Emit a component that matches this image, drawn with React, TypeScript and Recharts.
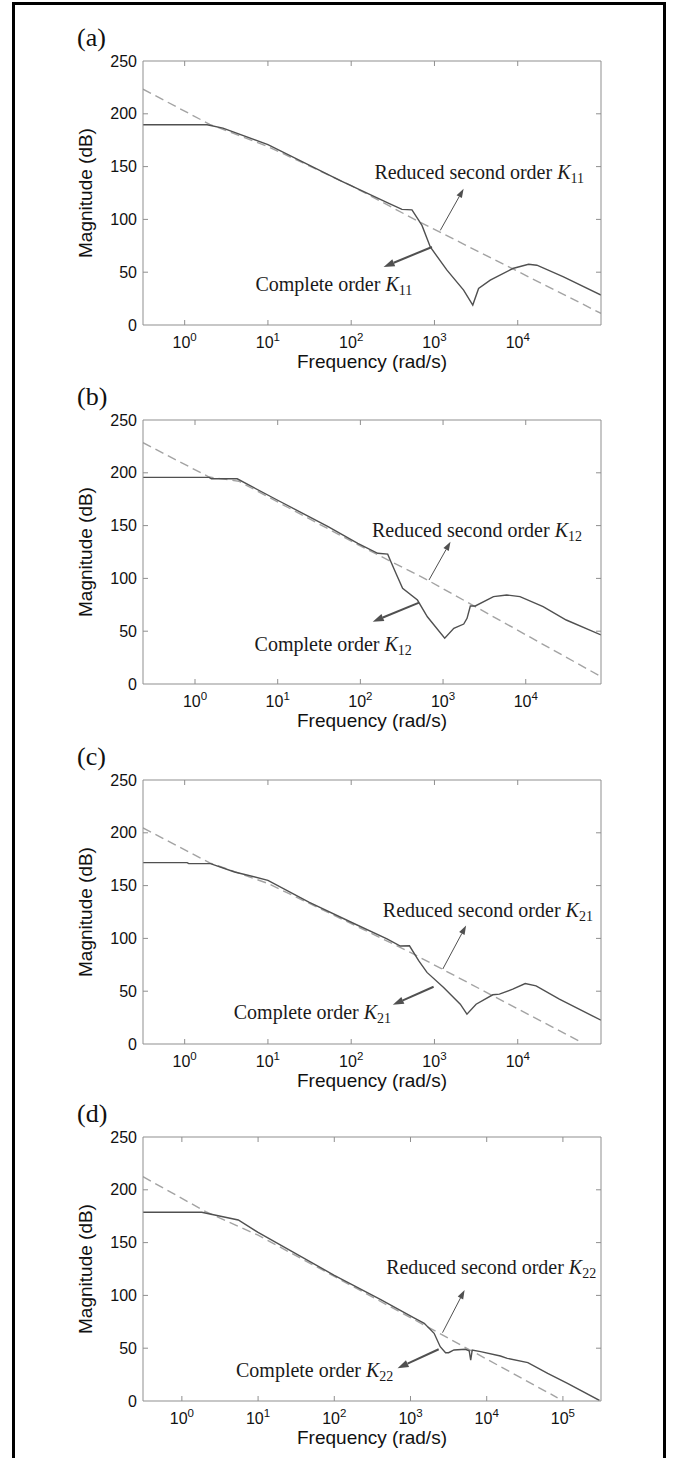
import React from 'react';
import { LineChart, Line, XAxis, YAxis, ReferenceLine, ReferenceDot, Label } from 'recharts';

const SANS = '"Liberation Sans", Arial, Helvetica, sans-serif';
const SERIF = '"Liberation Serif", "Times New Roman", serif';
const AXIS = '#8f8f8f';
const SOLID = '#505050';
const DASH = '#a3a3a3';
const ARROW = '#505050';

const magTicks = [0, 50, 100, 150, 200, 250];
const decades5 = [1, 10, 100, 1000, 10000];
const decades6 = [1, 10, 100, 1000, 10000, 100000];

// (a) K11
const freqA = [0.316, 1.86, 2.88, 10, 74, 275, 407, 537, 708, 891, 1413, 2239, 2884, 3388, 4677, 8710, 13490, 16980, 35480, 100000];
const completeA = [189.6, 189.6, 186.5, 170.8, 136.8, 115.6, 109.5, 109, 94.3, 73.9, 51.9, 33, 18.9, 34.6, 42.5, 53.5, 57.5, 56.6, 45.6, 28.3];
const reducedFreqA = [0.316, 2.0, 10, 100, 562, 100000];
const reducedA = [223.3, 190, 169, 132, 100.5, 11];

// (b) K12
const freqB = [0.235, 1.48, 1.58, 3.24, 10, 40.7, 93, 162, 214, 234, 269, 324, 490, 646, 1047, 1349, 1778, 1950, 2138, 2455, 4074, 5888, 8511, 16220, 30900, 81300];
const completeB = [195.7, 195.7, 194.3, 194.3, 174, 149, 133.2, 123.8, 123, 115.8, 104.8, 90.6, 79.5, 63.7, 43.3, 52.7, 56.8, 62.2, 73.9, 73.9, 82.7, 84.3, 82.7, 73.2, 60.6, 46.5];
const reducedFreqB = [0.235, 1.48, 3.39, 93, 646, 81300];
const reducedB = [228.5, 196, 192, 132, 98.5, 7];

// (c) K21
const freqC = [0.316, 1.07, 1.12, 2.04, 3.98, 10, 31, 100, 269, 389, 501, 646, 813, 1288, 2042, 2455, 3162, 5012, 6026, 8710, 12300, 16600, 31620, 100000];
const completeC = [171.8, 171.8, 170.8, 170.8, 162.9, 155, 134.3, 115.3, 99.5, 92.8, 93, 78.9, 67.8, 53.5, 37.7, 28.2, 37.7, 46.6, 47.2, 52, 57.3, 55.1, 42.5, 22.5];
const reducedFreqC = [0.316, 2.0, 10, 100, 513, 60260];
const reducedC = [204.7, 171.5, 152, 114, 86.8, 1];

// (d) K22
const freqD = [0.309, 1.82, 5.5, 10, 100, 407, 1096, 1514, 2042, 2455, 2884, 3162, 3715, 5248, 5888, 6166, 6457, 8318, 15140, 18620, 34670, 63100, 114800, 302000];
const completeD = [178.7, 178.7, 171.4, 159.7, 119, 96, 79, 73.6, 64.1, 51.4, 45.7, 45.7, 48.3, 49, 47.6, 38.8, 48.3, 46.7, 42.6, 40.4, 36.3, 26.2, 16.8, 0.5];
const reducedFreqD = [0.309, 2.09, 10, 100, 1820, 85100];
const reducedD = [212.4, 179, 157, 118, 68.8, 3];

const toRows = (f: number[], m: number[]) => f.map((v, i) => ({ f: v, m: m[i] }));

const panels = [
  {
    tag: '(a)', sub: '11', top: 61, domain: [0.316, 100000], ticks: decades5,
    complete: toRows(freqA, completeA), reduced: toRows(reducedFreqA, reducedA),
    redArrow: [[1175, 89.6], [2239, 129]], compArrow: [[933, 73.9], [245, 55]],
    redText: [190, 138.4], compText: [7.08, 32],
  },
  {
    tag: '(b)', sub: '12', top: 420, domain: [0.235, 81300], ticks: decades5,
    complete: toRows(freqB, completeB), reduced: toRows(reducedFreqB, reducedB),
    redArrow: [[676, 98.5], [1230, 134.8]], compArrow: [[513, 77], [141, 59]],
    redText: [138, 139.5], compText: [5.25, 31.5],
  },
  {
    tag: '(c)', sub: '21', top: 780, domain: [0.316, 100000], ticks: decades5,
    complete: toRows(freqC, completeC), reduced: toRows(reducedFreqC, reducedC),
    redArrow: [[1259, 71], [2399, 112.2]], compArrow: [[977, 54.2], [316, 37.1]],
    redText: [240, 120], compText: [3.89, 23.5],
  },
  {
    tag: '(d)', sub: '22', top: 1137, domain: [0.309, 316000], ticks: decades6,
    complete: toRows(freqD, completeD), reduced: toRows(reducedFreqD, reducedD),
    redArrow: [[2630, 64.7], [5129, 105.1]], compArrow: [[2344, 49], [676, 31]],
    redText: [479, 120.3], compText: [5.13, 23],
  },
];

const BottomTick = (props: any) => {
  const { x, y, payload } = props;
  const exp = Math.round(Math.log10(payload.value));
  return (
    <g>
      <line x1={x} y1={y} x2={x} y2={y - 5} stroke={AXIS} />
      <text x={x} y={y + 23} textAnchor="middle" fontFamily={SANS} fontSize={16} fill="#111">
        10<tspan dy={-7} fontSize={11.5}>{exp}</tspan>
      </text>
    </g>
  );
};

const TopTick = (props: any) => (
  <line x1={props.x} y1={props.y} x2={props.x} y2={props.y + 5} stroke={AXIS} />
);

const LeftTick = (props: any) => {
  const { x, y, payload } = props;
  return (
    <g>
      {payload.value > 0 && payload.value < 250 && <line x1={x} y1={y} x2={x + 5} y2={y} stroke={AXIS} />}
      <text x={x - 6} y={y + 5.5} textAnchor="end" fontFamily={SANS} fontSize={16} fill="#111">
        {payload.value}
      </text>
    </g>
  );
};

const RightTick = (props: any) =>
  props.payload.value > 0 && props.payload.value < 250 ? (
    <line x1={props.x} y1={props.y} x2={props.x - 5} y2={props.y} stroke={AXIS} />
  ) : (
    <g />
  );

const XTitle = (props: any) => {
  const { x, y, width } = props.viewBox;
  return (
    <text x={x + width / 2} y={y + 43} textAnchor="middle" fontFamily={SANS} fontSize={19} fill="#111">
      Frequency (rad/s)
    </text>
  );
};

const YTitle = (props: any) => {
  const { x, y, width, height } = props.viewBox;
  const cx = x + width - 51;
  const cy = y + height / 2;
  return (
    <text x={cx} y={cy} transform={`rotate(-90 ${cx} ${cy})`} textAnchor="middle" fontFamily={SANS} fontSize={19} fill="#111">
      Magnitude (dB)
    </text>
  );
};

const arrow = (w: number, head: number) => (props: any) => {
  const { x1, y1, x2, y2 } = props;
  const a = Math.atan2(y2 - y1, x2 - x1);
  const bx = x2 - head * Math.cos(a);
  const by = y2 - head * Math.sin(a);
  const hw = head * 0.34;
  const pts = [
    [x2, y2],
    [bx + hw * Math.sin(a), by - hw * Math.cos(a)],
    [bx - hw * Math.sin(a), by + hw * Math.cos(a)],
  ].map((p) => p.join(',')).join(' ');
  return (
    <g>
      <line x1={x1} y1={y1} x2={bx} y2={by} stroke={ARROW} strokeWidth={w} />
      <polygon points={pts} fill={ARROW} />
    </g>
  );
};

const annot = (lead: string, sub: string) => (props: any) => (
  <text x={props.cx} y={props.cy} fontFamily={SERIF} fontSize={20} fill="#1a1a1a">
    {lead}
    <tspan fontStyle="italic">K</tspan>
    <tspan fontSize={14} dy={4}>{sub}</tspan>
  </text>
);

function Panel({ p }: { p: (typeof panels)[number] }) {
  return (
    <div style={{ position: 'absolute', left: 0, top: p.top - 40, width: 674, height: 354 }}>
      <div style={{ position: 'absolute', left: 77, top: 4, fontFamily: SERIF, fontSize: 26, lineHeight: 1, color: '#111' }}>
        {p.tag}
      </div>
      <LineChart width={674} height={354} margin={{ top: 39, right: 72, bottom: 0, left: 43 }}>
        <XAxis
          dataKey="f" type="number" scale="log" domain={p.domain} ticks={p.ticks} allowDataOverflow interval={0}
          stroke={AXIS} tickLine={false} tickSize={0} tickMargin={0} tick={<BottomTick />} height={50}
        >
          <Label content={<XTitle />} />
        </XAxis>
        <XAxis
          xAxisId="top" orientation="top" dataKey="f" type="number" scale="log" domain={p.domain} ticks={p.ticks}
          allowDataOverflow interval={0} stroke={AXIS} tickLine={false} tickSize={0} tickMargin={0} tick={<TopTick />} height={1}
        />
        <YAxis
          type="number" domain={[0, 250]} ticks={magTicks} allowDataOverflow interval={0} stroke={AXIS}
          tickLine={false} tickSize={0} tickMargin={0} tick={<LeftTick />} width={100}
        >
          <Label content={<YTitle />} />
        </YAxis>
        <YAxis
          yAxisId="right" orientation="right" type="number" domain={[0, 250]} ticks={magTicks} allowDataOverflow interval={0}
          stroke={AXIS} tickLine={false} tickSize={0} tickMargin={0} tick={<RightTick />} width={1}
        />
        <Line data={p.reduced} dataKey="m" type="linear" stroke={DASH} strokeWidth={1.4} strokeDasharray="9 5" dot={false} isAnimationActive={false} />
        <Line data={p.complete} dataKey="m" type="linear" stroke={SOLID} strokeWidth={1.4} dot={false} isAnimationActive={false} />
        <ReferenceLine
          segment={[{ x: p.redArrow[0][0], y: p.redArrow[0][1] }, { x: p.redArrow[1][0], y: p.redArrow[1][1] }]}
          shape={arrow(1, 9)}
        />
        <ReferenceLine
          segment={[{ x: p.compArrow[0][0], y: p.compArrow[0][1] }, { x: p.compArrow[1][0], y: p.compArrow[1][1] }]}
          shape={arrow(2, 11)}
        />
        <ReferenceDot x={p.redText[0]} y={p.redText[1]} r={0} shape={annot('Reduced second order ', p.sub)} />
        <ReferenceDot x={p.compText[0]} y={p.compText[1]} r={0} shape={annot('Complete order ', p.sub)} />
      </LineChart>
    </div>
  );
}

export default function App() {
  return (
    <div style={{ position: 'absolute', left: 0, top: 0, width: 674, height: 1458, background: '#fff', overflow: 'hidden' }}>
      <div
        style={{
          position: 'absolute', left: 12, top: 2, width: 648, height: 1456,
          borderLeft: '3px solid #000', borderRight: '3px solid #000', borderTop: '3px solid #000',
        }}
      />
      {panels.map((p) => (
        <Panel key={p.tag} p={p} />
      ))}
    </div>
  );
}
